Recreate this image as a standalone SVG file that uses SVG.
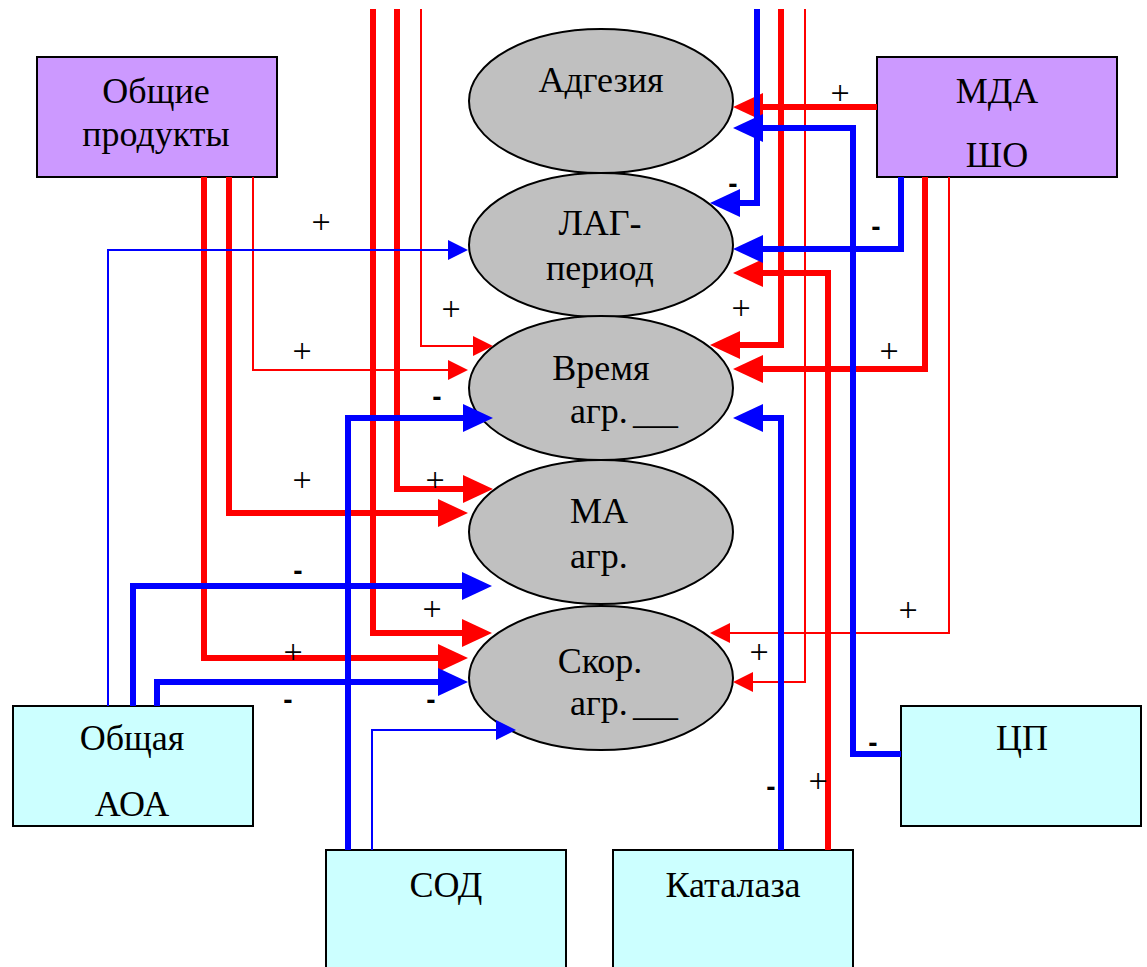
<svg xmlns="http://www.w3.org/2000/svg" width="1147" height="967" viewBox="0 0 1147 967">
<style>
.box{stroke:#000;stroke-width:2}
.p{fill:#CC99FF}
.c{fill:#CCFFFF}
.el{fill:#C0C0C0;stroke:#000;stroke-width:2}
.t{font-family:'Liberation Serif','Times New Roman',serif;font-size:36px;fill:#000;text-anchor:middle}
.ts{font-family:'Liberation Serif','Times New Roman',serif;font-size:36px;fill:#000}
.pl{font-family:'Liberation Serif','Times New Roman',serif;font-size:34px;fill:#000;text-anchor:middle}
.mi{font-family:'Liberation Sans',Arial,sans-serif;font-weight:bold;font-size:28px;fill:#000;text-anchor:middle}
.rk{fill:none;stroke:#FF0000;stroke-width:6;stroke-linejoin:miter}
.rn{fill:none;stroke:#FF0000;stroke-width:2;stroke-linejoin:miter}
.bk{fill:none;stroke:#0000FF;stroke-width:6;stroke-linejoin:miter}
.bn{fill:none;stroke:#0000FF;stroke-width:2;stroke-linejoin:miter}
</style>
<defs>
<marker id="ark" markerUnits="userSpaceOnUse" markerWidth="32" markerHeight="30" viewBox="0 -15 32 30" refX="0" refY="0" orient="auto" overflow="visible"><path d="M0,-14 L30,0 L0,14 z" fill="#FF0000"/></marker>
<marker id="arn" markerUnits="userSpaceOnUse" markerWidth="22" markerHeight="22" viewBox="0 -11 22 22" refX="0" refY="0" orient="auto" overflow="visible"><path d="M0,-10 L20,0 L0,10 z" fill="#FF0000"/></marker>
<marker id="abk" markerUnits="userSpaceOnUse" markerWidth="32" markerHeight="30" viewBox="0 -15 32 30" refX="0" refY="0" orient="auto" overflow="visible"><path d="M0,-14 L30,0 L0,14 z" fill="#0000FF"/></marker>
<marker id="abn" markerUnits="userSpaceOnUse" markerWidth="22" markerHeight="22" viewBox="0 -11 22 22" refX="0" refY="0" orient="auto" overflow="visible"><path d="M0,-10 L20,0 L0,10 z" fill="#0000FF"/></marker>
</defs>

<g id="adgeziya"><ellipse class="el" cx="601" cy="101" rx="132" ry="72"/><text class="t" x="601" y="92">Адгезия</text></g>
<g id="lag"><ellipse class="el" cx="601" cy="245" rx="132" ry="72"/><text class="t" x="600" y="235">ЛАГ-</text><text class="t" x="600" y="280">период</text></g>
<g id="vremya"><ellipse class="el" cx="601" cy="388" rx="132" ry="72"/><text class="t" x="601" y="380">Время</text><text class="ts" x="570" y="423">агр.<tspan x="633" textLength="45" lengthAdjust="spacingAndGlyphs">___</tspan></text></g>
<g id="ma"><ellipse class="el" cx="601" cy="532" rx="132" ry="72"/><text class="ts" x="570" y="523">МА</text><text class="ts" x="570" y="568">агр.</text></g>
<g id="skor"><ellipse class="el" cx="601" cy="678" rx="132" ry="72"/><text class="t" x="600" y="673">Скор.</text><text class="ts" x="570" y="715">агр.<tspan x="633" textLength="45" lengthAdjust="spacingAndGlyphs">___</tspan></text></g>

<g id="obshchie"><rect class="box p" x="37" y="57" width="240" height="120"/><text class="t" x="156" y="103">Общие</text><text class="t" x="156" y="146">продукты</text></g>
<g id="mda"><rect class="box p" x="877" y="57" width="240" height="120"/><text class="t" x="997" y="103">МДА</text><text class="t" x="997" y="167">ШО</text></g>
<g id="aoa"><rect class="box c" x="13" y="706" width="240" height="120"/><text class="t" x="132" y="750">Общая</text><text class="t" x="132" y="816">АОА</text></g>
<g id="cp"><rect class="box c" x="901" y="706" width="240" height="120"/><text class="t" x="1022" y="750">ЦП</text></g>
<g id="sod"><rect class="box c" x="326" y="850" width="240" height="130"/><text class="t" x="446" y="897">СОД</text></g>
<g id="katalaza"><rect class="box c" x="613" y="850" width="240" height="130"/><text class="t" x="733" y="897">Каталаза</text></g>

<g id="connectors">
<polyline class="rk" points="373,9 373,633 462,633" marker-end="url(#ark)"/>
<polyline class="rk" points="397,9 397,489 463,489" marker-end="url(#ark)"/>
<polyline class="rn" points="421,9 421,346 473,346" marker-end="url(#arn)"/>
<polyline class="rk" points="204,177 204,658 438,658" marker-end="url(#ark)"/>
<polyline class="rk" points="229,177 229,513 438,513" marker-end="url(#ark)"/>
<polyline class="rn" points="253,177 253,370 448,370" marker-end="url(#arn)"/>
<polyline class="rk" points="781,9 781,345 740,345" marker-end="url(#ark)"/>
<polyline class="rk" points="828,850 828,273 763,273" marker-end="url(#ark)"/>
<polyline class="rn" points="805,9 805,682 753,682" marker-end="url(#arn)"/>
<polyline class="rk" points="877,107 763,107" marker-end="url(#ark)"/>
<polyline class="rk" points="925,177 925,369 763,369" marker-end="url(#ark)"/>
<polyline class="rn" points="949,177 949,633 730,633" marker-end="url(#arn)"/>
<polyline class="bn" points="108,706 108,250 448,250" marker-end="url(#abn)"/>
<polyline class="bk" points="133,706 133,586 462,586" marker-end="url(#abk)"/>
<polyline class="bk" points="157,706 157,682 438,682" marker-end="url(#abk)"/>
<polyline class="bk" points="348,850 348,418 463,418" marker-end="url(#abk)"/>
<polyline class="bn" points="372,850 372,730 496,730" marker-end="url(#abn)"/>
<polyline class="bk" points="781,850 781,418 763,418" marker-end="url(#abk)"/>
<polyline class="bk" points="901,754 853,754 853,128 763,128" marker-end="url(#abk)"/>
<polyline class="bk" points="901,177 901,249 763,249" marker-end="url(#abk)"/>
<polyline class="bk" points="757,9 757,203 740,203" marker-end="url(#abk)"/>
</g>

<g id="labels">
<text class="pl" x="840" y="104">+</text>
<text class="pl" x="321" y="233">+</text>
<text class="pl" x="451" y="320">+</text>
<text class="pl" x="302" y="362">+</text>
<text class="pl" x="741" y="319">+</text>
<text class="pl" x="889" y="362">+</text>
<text class="pl" x="302" y="491">+</text>
<text class="pl" x="435" y="491">+</text>
<text class="pl" x="432" y="620">+</text>
<text class="pl" x="293" y="663">+</text>
<text class="pl" x="908" y="621">+</text>
<text class="pl" x="759" y="663">+</text>
<text class="pl" x="818" y="792">+</text>
<text class="mi" x="733" y="193">-</text>
<text class="mi" x="876" y="236">-</text>
<text class="mi" x="437" y="406">-</text>
<text class="mi" x="298" y="580">-</text>
<text class="mi" x="288" y="709">-</text>
<text class="mi" x="431" y="709">-</text>
<text class="mi" x="873" y="752">-</text>
<text class="mi" x="771" y="796">-</text>
</g>
</svg>
